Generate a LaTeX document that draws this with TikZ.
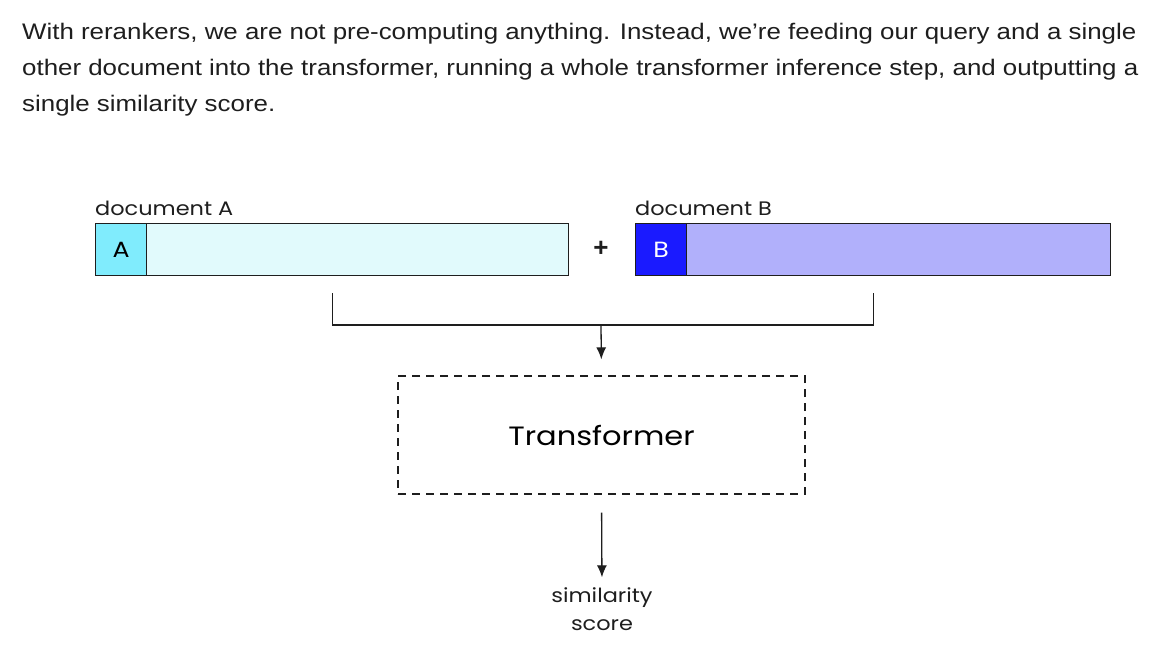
\documentclass[tikz,border=0pt]{standalone}
\usepackage{fontspec}
\setmainfont{Liberation Sans}
\newfontfamily\introfont[FakeStretch=1.15]{Liberation Sans}
\newfontfamily\sketchfont[FakeStretch=1.15]{Poppins}
\usetikzlibrary{arrows.meta,positioning,calc}
\definecolor{ink}{HTML}{1E1E1E}
\definecolor{cyanhead}{HTML}{80ECFD}
\definecolor{cyanbody}{HTML}{E1FAFC}
\definecolor{bluehead}{HTML}{1A1AFF}
\definecolor{bluebody}{HTML}{B1B0FB}
\tikzset{
  intro/.style={anchor=north west,align=left,inner sep=0pt,
    font=\introfont\fontsize{22.5}{36}\selectfont,text=ink},
  docbar/.style={rectangle,draw=ink,line width=1.4pt,
    minimum height=52pt,inner sep=0pt},
  tagbox/.style={docbar,minimum width=51pt,
    font=\sketchfont\fontsize{22}{24}\selectfont},
  doclabel/.style={anchor=south west,inner sep=0pt,text=ink,
    font=\sketchfont\fontsize{19.5}{22}\selectfont},
  modelbox/.style={rectangle,draw=ink,line width=1.3pt,
    dash pattern=on 8pt off 6pt,minimum width=407pt,minimum height=118pt,
    font=\sketchfont\fontsize{26.5}{28}\selectfont},
  scorelabel/.style={align=center,inner sep=0pt,text=ink,
    font=\sketchfont\fontsize{19.5}{28}\selectfont},
  bracket/.style={draw=ink,line width=1.3pt},
  flow/.style={-{Latex[length=12pt,width=10pt]},draw=ink,line width=1.3pt}
}
\begin{document}
\begin{tikzpicture}[x=1pt,y=-1pt]
  \useasboundingbox[fill=white] (0,0) rectangle (1170,664);
  \node[intro] (intro) at (22,23) {With rerankers, we are not pre-computing anything. Instead, we’re feeding our query and a single\\other document into the transformer, running a whole transformer inference step, and outputting a\\single similarity score.};
  % the two documents
  \node[docbar,fill=cyanbody,minimum width=473pt,anchor=north west] (barA) at (95,223) {};
  \node[tagbox,fill=cyanhead,anchor=west] (tagA) at (barA.west) {A};
  \node[doclabel] (labelA) at ([yshift=7pt]barA.north west) {document A};
  \node[font=\bfseries\fontsize{26}{26}\selectfont,text=ink] (plus) at (601,249) {+};
  \node[docbar,fill=bluebody,minimum width=475pt,anchor=north west] (barB) at (635,223) {};
  \node[tagbox,fill=bluehead,text=white,anchor=west] (tagB) at (barB.west) {B};
  \node[doclabel] (labelB) at ([yshift=7pt]barB.north west) {document B};
  % model and output
  \node[modelbox] (model) at (601.5,435) {Transformer};
  \node[scorelabel] (score) at (602,609) {similarity\\score};
  \coordinate (joinA) at ([yshift=-17pt]barA.south);
  \coordinate (joinB) at ([yshift=-17pt]barB.south);
  \coordinate (merge) at (601,325);
  \draw[bracket] (joinA) -- (joinA |- merge) -- (joinB |- merge) -- (joinB);
  \draw[flow,shorten >=16pt] (merge) -- (model.north);
  \draw[flow,shorten <=18pt,shorten >=10pt] (model.south) -- (score.north);
\end{tikzpicture}
\end{document}
